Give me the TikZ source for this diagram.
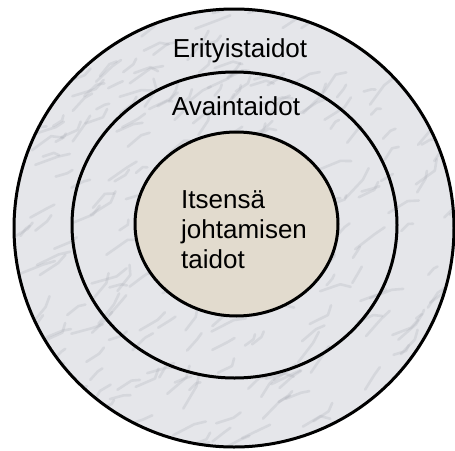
\documentclass[tikz,border=0pt]{standalone}
\usepackage{fontspec}
\setmainfont{Liberation Sans}
\usepackage{tikz}

\definecolor{marble}{RGB}{229,230,234}
\definecolor{veingray}{RGB}{160,163,172}
\definecolor{sand}{RGB}{226,219,206}

\tikzset{
    ring/.style={draw=black, line width=3pt},
    vein/.style={veingray, line width=2.6pt, line cap=round, line join=round, opacity=0.22},
    levellabel/.style={font=\fontsize{26}{30}\selectfont, inner sep=0pt, anchor=base}
}

\begin{document}
\begin{tikzpicture}[x=1pt, y=-1pt]
    \useasboundingbox (0,0) rectangle (455,450);

    % Marble background of the two outer rings
    \fill[marble] (234,228) ellipse [x radius=220, y radius=219];
    \begin{scope}
        \clip (234,228) ellipse [x radius=220, y radius=219];
        \pgfmathsetseed{11}
        \foreach \k in {1,...,300} {
            \pgfmathsetmacro\px{10+rnd*445}
            \pgfmathsetmacro\py{5+rnd*445}
            \pgfmathsetmacro\ang{-15-rnd*45}
            \pgfmathsetmacro\len{8+rnd*18}
            \draw[vein] (\px,\py) -- ++(\ang:\len) -- ++(\ang+50-rnd*100:\len*0.5);
        }
    \end{scope}

    % Draw the three levels
    \draw[ring] (234,228) ellipse [x radius=220, y radius=219];
    \draw[ring] (234.5,225) ellipse [x radius=162.5, y radius=153];
    \draw[ring, fill=sand] (236.5,224) ellipse [x radius=101.5, y radius=92];

    % Labels
    \node[levellabel] (erity) at (240,57) {Erityistaidot};
    \node[levellabel] (avain) at (236,115) {Avaintaidot};
    \node[levellabel, anchor=base west, align=left] (itse) at (181,268)
        {Itsensä\\johtamisen\\taidot};
\end{tikzpicture}
\end{document}
